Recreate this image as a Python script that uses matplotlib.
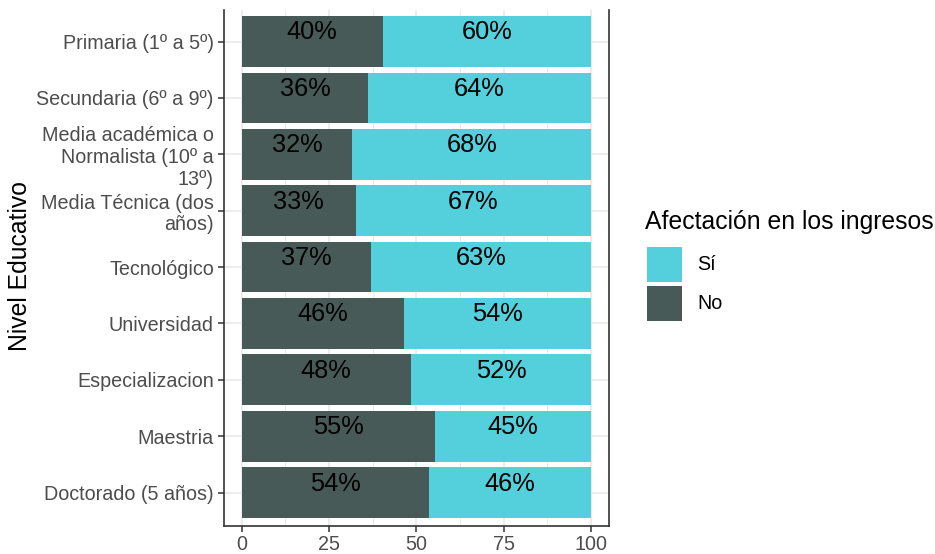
import matplotlib
matplotlib.use("Agg")
import matplotlib.pyplot as plt
from matplotlib.patches import Rectangle
from matplotlib.ticker import MultipleLocator

plt.rcParams['font.family'] = ['Liberation Sans', 'DejaVu Sans']

categories = ["Primaria (1º a 5º)", "Secundaria (6º a 9º)",
              "Media académica o\nNormalista (10º a\n13º)",
              "Media Técnica (dos\naños)", "Tecnológico", "Universidad",
              "Especializacion", "Maestria", "Doctorado (5 años)"]
no_vals = [40.4, 36.2, 31.7, 32.7, 36.9, 46.4, 48.4, 55.4, 53.7]
si_vals = [100 - v for v in no_vals]
series_names = ["Sí", "No"]
colors = {"Sí": "#53D0DC", "No": "#485A58"}

W, H = 935, 554
fig = plt.figure(figsize=(W / 100, H / 100), dpi=100)

def px(x0, y0, x1, y1):
    return [x0 / W, 1 - y1 / H, (x1 - x0) / W, (y1 - y0) / H]

ax = fig.add_axes(px(224.2, 10, 608.5, 525.5))
ypos = list(range(len(categories)))
ax.barh(ypos, no_vals, height=0.9, color=colors["No"], zorder=2)
ax.barh(ypos, si_vals, left=no_vals, height=0.9, color=colors["Sí"], zorder=2)

for i, (n, s) in enumerate(zip(no_vals, si_vals)):
    ax.text(n / 2, i - 0.16, f"{round(n)}%", ha="center", va="center",
            fontsize=18.3, color="black", zorder=3)
    ax.text(n + s / 2, i - 0.16, f"{round(s)}%", ha="center", va="center",
            fontsize=18.3, color="black", zorder=3)

ax.set_xlim(-5, 105)
ax.set_ylim(8.585, -0.559)
ax.set_yticks(ypos)
ax.set_yticklabels(categories, fontsize=14.2, color="#4D4D4D", linespacing=1.18)
ax.xaxis.set_major_locator(MultipleLocator(25))
ax.xaxis.set_minor_locator(MultipleLocator(12.5))
ax.tick_params(axis="x", which="major", labelsize=14.2, labelcolor="#4D4D4D",
               color="#333333", length=4, width=1.1, pad=3)
ax.tick_params(axis="x", which="minor", length=0)
ax.tick_params(axis="y", labelcolor="#4D4D4D", color="#333333", length=4,
               width=1.1, pad=3.5)
ax.grid(True, which="major", color="#EBEBEB", linewidth=1.3, zorder=0)
ax.grid(True, which="minor", axis="x", color="#EBEBEB", linewidth=0.7, zorder=0)
ax.set_axisbelow(True)
for side in ["left", "right", "bottom"]:
    ax.spines[side].set_color("#333333")
    ax.spines[side].set_linewidth(1.2)
ax.spines["top"].set_visible(False)

fig.text(20 / W, 1 - 266 / H, "Nivel Educativo", rotation=90, ha="center",
         va="center", fontsize=17.8, color="black")

# legend
fig.text(645 / W, 1 - 222 / H, "Afectación en los ingresos", ha="left",
         va="center", fontsize=17.8, color="black")
for k, name in enumerate(series_names):
    y0 = 246.7 + k * 39.5
    fig.patches.append(Rectangle((647 / W, 1 - (y0 + 35) / H), 35 / W, 35 / H,
                                 transform=fig.transFigure,
                                 facecolor=colors[name], edgecolor="none"))
    fig.text(697 / W, 1 - (y0 + 17.5) / H, name, ha="left", va="center",
             fontsize=14.2, color="black")

fig.savefig("out.png", dpi=100)
